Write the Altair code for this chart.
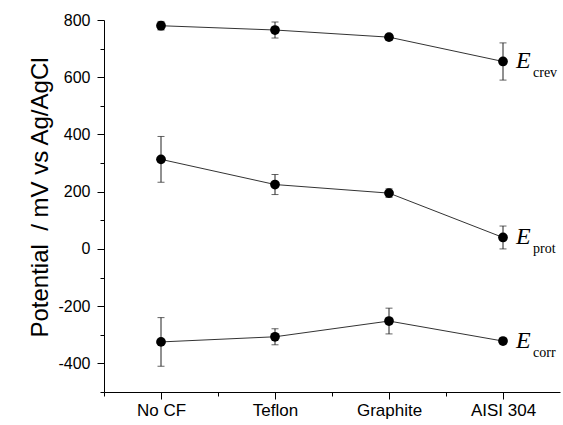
import json
import altair as alt
import pandas as pd

categories = ["No CF", "Teflon", "Graphite", "AISI 304"]
series_names = ["crev", "prot", "corr"]
e_crev = [780, 765, 740, 655]
e_crev_err = [15, 28, 10, 65]
e_prot = [313, 225, 195, 40]
e_prot_err = [80, 35, 15, 40]
e_corr = [-325, -307, -252, -322]
e_corr_err = [85, 28, 45, 8]
y_ticks = list(range(-500, 801, 100))
x_ticks = [0, 0.5, 1, 1.5, 2, 2.5, 3, 3.5]

rows = []
for s, vals, errs in zip(series_names, [e_crev, e_prot, e_corr], [e_crev_err, e_prot_err, e_corr_err]):
    for i, (c, v, e) in enumerate(zip(categories, vals, errs)):
        rows.append(dict(series=s, cat=c, pos=i + 0.5, value=v, lo=v - e, hi=v + e))
df = pd.DataFrame(rows)
last = df[df["cat"] == categories[-1]]

cat_js = json.dumps(categories)
x_axis = alt.Axis(
    values=x_ticks,
    labelExpr=f"datum.value % 1 === 0.5 ? {cat_js}[floor(datum.value)] : ''",
    tickSize={"condition": {"test": "datum.value % 1 === 0.5", "value": 7}, "value": 4},
    title=None, grid=False, domainColor="black", tickColor="black",
    labelFont="Liberation Sans", labelFontSize=17, labelColor="black",
    labelPadding=3, domainWidth=1, tickWidth=1,
)
y_axis = alt.Axis(
    values=y_ticks,
    labelExpr="datum.value % 200 === 0 && datum.value > -500 ? '' + datum.value : ''",
    tickSize={"condition": {"test": "datum.value % 200 === 0", "value": 7}, "value": 4},
    title="Potential\u00a0 / mV vs Ag/AgCl", grid=False, domainColor="black", tickColor="black",
    labelFont="Liberation Sans", labelFontSize=16, labelColor="black", labelPadding=7,
    titleFont="Liberation Sans", titleFontSize=24, titleFontWeight="normal", titleColor="black",
    titleAngle=-90, titleX=-57, titleY=177, titleAlign="center", titleBaseline="alphabetic",
    domainWidth=1, tickWidth=1,
)
xs = alt.Scale(domain=[0, 4], nice=False, zero=False)
ys = alt.Scale(domain=[-500, 800], nice=False, zero=False)

def X():
    return alt.X("pos:Q", scale=xs, axis=x_axis)

def Y(f):
    return alt.Y(f"{f}:Q", scale=ys, axis=y_axis)

base = alt.Chart(df)
lines = base.mark_line(color="#333333", strokeWidth=1).encode(x=X(), y=Y("value"), detail="series:N")
bars = base.mark_rule(color="#222222", strokeWidth=1).encode(x=X(), y=Y("lo"), y2="hi:Q")
cap_lo = base.mark_tick(color="#222222", thickness=1, size=7, orient="horizontal").encode(x=X(), y=Y("lo"))
cap_hi = base.mark_tick(color="#222222", thickness=1, size=7, orient="horizontal").encode(x=X(), y=Y("hi"))
pts = base.mark_circle(size=95, color="black", opacity=1).encode(x=X(), y=Y("value"))

lab = alt.Chart(last)
e_txt = lab.mark_text(text="E", font="Liberation Serif", fontStyle="italic", fontSize=24,
                      align="left", baseline="alphabetic", dx=13, dy=7, color="black").encode(x=X(), y=Y("value"))
sub_txt = lab.mark_text(font="Liberation Serif", fontSize=14, align="left", baseline="alphabetic",
                        dx=30, dy=16, color="black").encode(x=X(), y=Y("value"), text="series:N")

chart = alt.layer(lines, bars, cap_lo, cap_hi, pts, e_txt, sub_txt).properties(
    width=456, height=372,
    padding={"left": 104, "top": 20, "right": 3, "bottom": 33},
    autosize=alt.AutoSizeParams(type="none"),
).configure_view(stroke=None)

chart.save("out.html", embed_options={"renderer": "svg", "actions": False})
